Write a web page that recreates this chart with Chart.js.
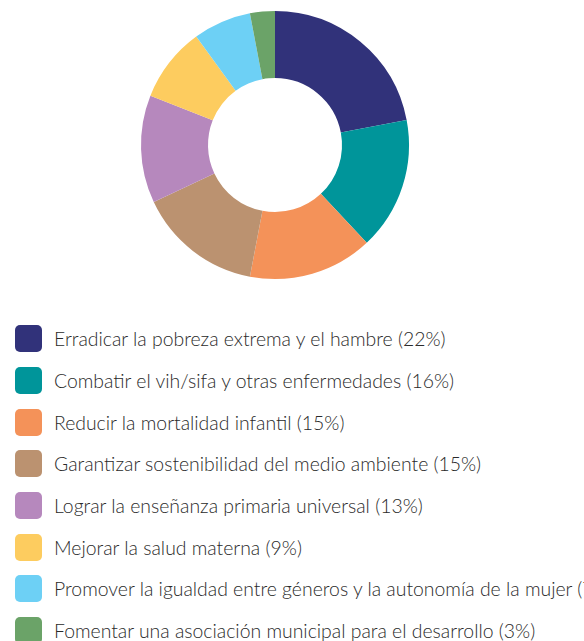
<!DOCTYPE html>
<html>
<head>
<meta charset="utf-8">
<script src="https://cdn.jsdelivr.net/npm/chart.js@4/dist/chart.umd.min.js"></script>
<style>
  html, body { margin: 0; padding: 0; background: #fff; }
  body { width: 584px; height: 641px; overflow: hidden; position: relative; }
  #chartBox { position: absolute; left: 0; top: 0; width: 584px; height: 290px; }
  #legend { position: absolute; left: 0; top: 318px; width: 584px; margin: 0; padding: 0; list-style: none; }
  #legend li { height: 41.7px; display: flex; align-items: center; white-space: nowrap;
    font-family: Lato, "Open Sans", sans-serif; font-size: 19.4px; font-weight: 300; color: #2a2a2a; }
  #legend .sw { width: 27px; height: 27px; border-radius: 5px; margin-left: 15px; margin-right: 12px; flex: none; }
</style>
</head>
<body>
<div id="chartBox"><canvas id="donut"></canvas></div>
<ul id="legend"></ul>
<script>
// data
const labels = [
  'Erradicar la pobreza extrema y el hambre',
  'Combatir el vih/sifa y otras enfermedades',
  'Reducir la mortalidad infantil',
  'Garantizar sostenibilidad del medio ambiente',
  'Lograr la enseñanza primaria universal',
  'Mejorar la salud materna',
  'Promover la igualdad entre géneros y la autonomía de la mujer',
  'Fomentar una asociación municipal para el desarrollo'
];
const shares = [22, 16, 15, 15, 13, 9, 7, 3];
const colors = ['#31327a', '#00959a', '#f49259', '#bb9270', '#b688bd', '#fdcc5f', '#6dd0f5', '#6ba368'];

new Chart(document.getElementById('donut'), {
  type: 'doughnut',
  data: {
    labels: labels,
    datasets: [{
      data: shares,
      backgroundColor: colors,
      borderWidth: 0
    }]
  },
  options: {
    responsive: true,
    maintainAspectRatio: false,
    animation: false,
    cutout: '50%',
    layout: { padding: { top: 11, bottom: 11, left: 0, right: 34 } },
    plugins: {
      legend: { display: false },
      tooltip: { enabled: false }
    }
  }
});

// legend built from the same arrays
const legendEl = document.getElementById('legend');
labels.forEach((lab, i) => {
  const li = document.createElement('li');
  const sw = document.createElement('span');
  sw.className = 'sw';
  sw.style.background = colors[i];
  li.appendChild(sw);
  li.appendChild(document.createTextNode(lab + ' (' + shares[i] + '%)'));
  legendEl.appendChild(li);
});
</script>
</body>
</html>
